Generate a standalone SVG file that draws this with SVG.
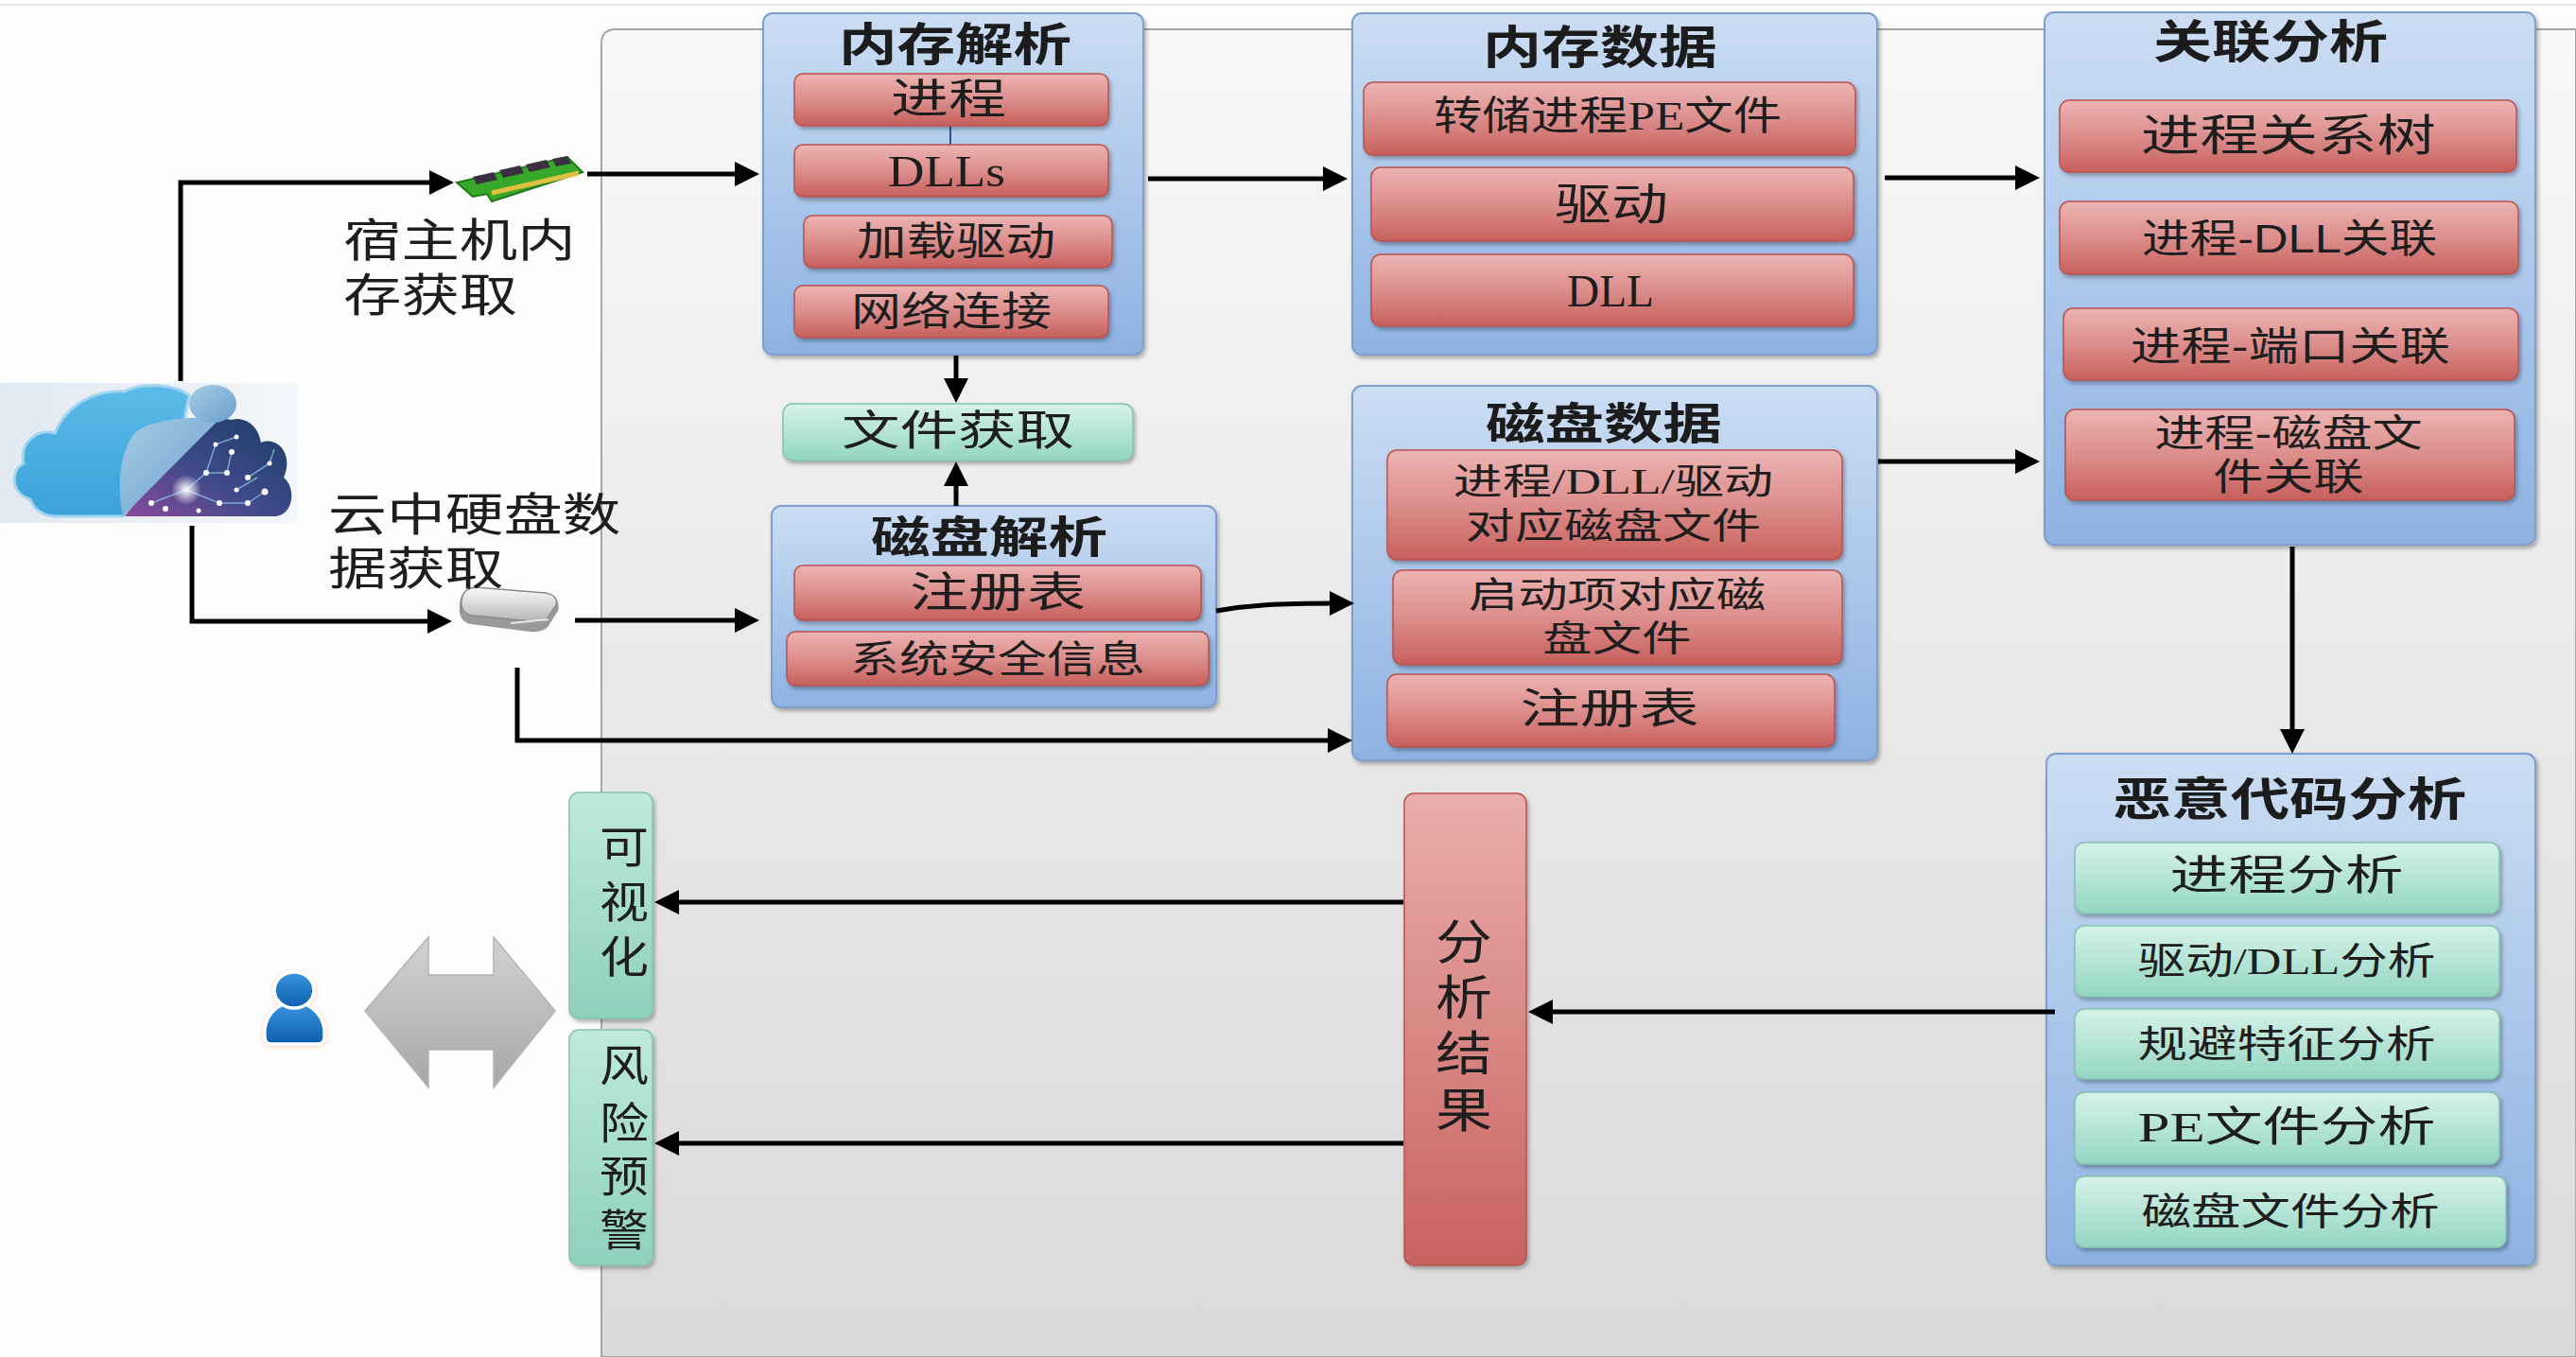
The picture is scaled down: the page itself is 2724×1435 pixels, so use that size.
<svg xmlns="http://www.w3.org/2000/svg" width="2724" height="1435" viewBox="0 0 2724 1435">
  <defs>
    <linearGradient id="gPanel" x1="0" y1="0" x2="0" y2="1">
      <stop offset="0" stop-color="#f8f8f8"/>
      <stop offset="1" stop-color="#dadada"/>
    </linearGradient>
    <linearGradient id="gBlue" x1="0" y1="0" x2="0" y2="1">
      <stop offset="0" stop-color="#cbddf3"/>
      <stop offset="1" stop-color="#8db2e2"/>
    </linearGradient>
    <linearGradient id="gRed" x1="0" y1="0" x2="0" y2="1">
      <stop offset="0" stop-color="#ecb4b2"/>
      <stop offset="0.5" stop-color="#dc8e8c"/>
      <stop offset="1" stop-color="#c75f5c"/>
    </linearGradient>
    <linearGradient id="gRedTall" x1="0" y1="0" x2="0" y2="1">
      <stop offset="0" stop-color="#e9aeac"/>
      <stop offset="1" stop-color="#c8625f"/>
    </linearGradient>
    <linearGradient id="gGreen" x1="0" y1="0" x2="0" y2="1">
      <stop offset="0" stop-color="#d6f2e9"/>
      <stop offset="1" stop-color="#93d6c2"/>
    </linearGradient>
    <linearGradient id="gGreenTall" x1="0" y1="0" x2="0" y2="1">
      <stop offset="0" stop-color="#bfeadc"/>
      <stop offset="1" stop-color="#8fd0bd"/>
    </linearGradient>
    <linearGradient id="gGray" x1="0" y1="0" x2="0" y2="1">
      <stop offset="0" stop-color="#d2d2d2"/>
      <stop offset="0.5" stop-color="#bdbdbd"/>
      <stop offset="1" stop-color="#a6a6a6"/>
    </linearGradient>
    <linearGradient id="gCloudBg" x1="0" y1="0" x2="1" y2="0">
      <stop offset="0" stop-color="#e2e9f2"/>
      <stop offset="1" stop-color="#f3f6fa"/>
    </linearGradient>
    <linearGradient id="gCloudLight" x1="0" y1="0" x2="0" y2="1">
      <stop offset="0" stop-color="#5cbbe9"/>
      <stop offset="1" stop-color="#3aa2d9"/>
    </linearGradient>
    <linearGradient id="gCloudDark" x1="1" y1="0" x2="0" y2="1">
      <stop offset="0" stop-color="#1d3d66"/>
      <stop offset="0.55" stop-color="#3f4a8a"/>
      <stop offset="1" stop-color="#8e4a9c"/>
    </linearGradient>
    <linearGradient id="gBubble" x1="0" y1="0" x2="1" y2="1">
      <stop offset="0" stop-color="#a6cbe6"/>
      <stop offset="1" stop-color="#6a9fcb"/>
    </linearGradient>
    <radialGradient id="gGlow">
      <stop offset="0" stop-color="#ffffff" stop-opacity="1"/>
      <stop offset="1" stop-color="#ffffff" stop-opacity="0"/>
    </radialGradient>
    <linearGradient id="gDisk" x1="0" y1="0" x2="0" y2="1">
      <stop offset="0" stop-color="#fbfbfb"/>
      <stop offset="1" stop-color="#b5b5b5"/>
    </linearGradient>
    <linearGradient id="gUser" x1="0" y1="0" x2="0" y2="1">
      <stop offset="0" stop-color="#3a96de"/>
      <stop offset="1" stop-color="#0d5eae"/>
    </linearGradient>
    <filter id="shadow" x="-10%" y="-10%" width="120%" height="130%">
      <feDropShadow dx="2" dy="3" stdDeviation="2" flood-color="#000" flood-opacity="0.3"/>
    </filter>
    <filter id="halo" x="-30%" y="-30%" width="160%" height="160%">
      <feDropShadow dx="0" dy="1" stdDeviation="2.5" flood-color="#e8a060" flood-opacity="0.45"/>
    </filter>
    <marker id="arrow" viewBox="0 0 26 26" markerWidth="26" markerHeight="26" refX="6" refY="13" orient="auto" markerUnits="userSpaceOnUse">
      <path d="M0,0 L26,13 L0,26 Z" fill="#000"/>
    </marker>
  </defs>
  <style>
    .container { fill: url(#gBlue); stroke: #7d9fcf; stroke-width: 2; filter: url(#shadow); }
    .red { fill: url(#gRed); stroke: #b85350; stroke-width: 1.5; filter: url(#shadow); }
    .green { fill: url(#gGreen); stroke: #84c3ae; stroke-width: 1.5; filter: url(#shadow); }
    .title { font-family: "Noto Sans CJK SC", "Liberation Sans", sans-serif; font-weight: bold; fill: #1c1c1c; text-anchor: middle; dominant-baseline: central; }
    .serif { font-family: "Liberation Serif", "Noto Sans CJK SC", serif; fill: #1e1e1e; text-anchor: middle; dominant-baseline: central; }
    .sans { font-family: "Liberation Sans", "Noto Sans CJK SC", sans-serif; fill: #1e1e1e; text-anchor: middle; dominant-baseline: central; }
    .left { text-anchor: start; }
    .conn { fill: none; stroke: #000; stroke-width: 5; marker-end: url(#arrow); }
  </style>

  <!-- page -->
  <rect x="0" y="0" width="2724" height="1435" fill="#fdfdfd"/>
  <line x1="0" y1="5" x2="2724" y2="5" stroke="#e6e6e6" stroke-width="2"/>
  <path d="M636,1435 V46 Q636,31 651,31 H2724 V1435 Z" fill="url(#gPanel)" stroke="#a6a6a6" stroke-width="2"/>

  <!-- cloud source -->
  <g id="cloud">
    <rect x="0" y="405" width="315" height="148" fill="url(#gCloudBg)"/>
    <path d="M127,546 L292,546 C311,544 313,515 300,505 C311,480 293,461 276,468 C273,450 259,440 245,444 L233,442 Z" fill="url(#gCloudDark)"/>
    <g stroke="#8fc8e8" stroke-width="1.5" fill="none" opacity="0.75">
      <path d="M197,518 L218,500 L240,500 L245,478"/>
      <path d="M197,518 L232,532 L262,532 L280,520"/>
      <path d="M262,505 L285,490 L290,475"/>
      <path d="M218,500 L228,470 L250,462"/>
      <path d="M160,532 L197,518"/>
      <path d="M250,518 L272,505"/>
    </g>
    <g fill="#ffffff">
      <circle cx="218" cy="500" r="3"/>
      <circle cx="240" cy="500" r="3"/>
      <circle cx="245" cy="478" r="3"/>
      <circle cx="262" cy="505" r="3"/>
      <circle cx="280" cy="520" r="3.5"/>
      <circle cx="232" cy="532" r="3"/>
      <circle cx="262" cy="532" r="3"/>
      <circle cx="160" cy="532" r="3"/>
      <circle cx="175" cy="538" r="3"/>
      <circle cx="285" cy="490" r="2.5"/>
      <circle cx="228" cy="470" r="2.5"/>
      <circle cx="250" cy="462" r="2.5"/>
      <circle cx="250" cy="518" r="2.5"/>
      <circle cx="210" cy="540" r="2.5"/>
    </g>
    <circle cx="197" cy="518" r="16" fill="url(#gGlow)"/>
    <path d="M32,528 C12,522 10,498 25,490 C20,468 40,452 58,458 C70,428 100,412 132,414 C150,404 185,406 200,418 L190,470 L130,546 L60,546 C45,546 35,538 32,528 Z" fill="url(#gCloudLight)" stroke="#a2d6ee" stroke-width="3"/>
    <path d="M130,546 C123,515 127,472 145,456 C160,444 200,440 233,442 Z" fill="url(#gBubble)"/>
    <ellipse cx="225" cy="427" rx="25" ry="20" fill="url(#gBubble)"/>
  </g>

  <!-- memory stick -->
  <g id="ram-icon">
    <polygon points="483,193 600,166 616,182 520,213 515,205 500,208" fill="#36a82a" stroke="#1f7a18" stroke-width="2"/>
    <polygon points="500,187 522,182 526,190 504,195" fill="#3a3040"/>
    <polygon points="528,180 550,175 554,183 532,188" fill="#3a3040"/>
    <polygon points="556,174 578,169 582,177 560,182" fill="#3a3040"/>
    <polygon points="584,168 600,165 604,173 588,176" fill="#3a3040"/>
    <line x1="520" y1="204" x2="612" y2="183" stroke="#e0c040" stroke-width="5"/>
  </g>

  <!-- disk -->
  <g id="disk-icon">
    <path d="M486,640 Q486,624 502,622 L578,630 Q594,633 590,646 L580,662 Q575,669 560,668 L498,660 Q484,657 486,640 Z" fill="#9a9a9a"/>
    <path d="M488,636 Q489,622 503,621 L577,627 Q591,630 588,640 L580,652 Q575,658 562,657 L500,651 Q487,649 488,636 Z" fill="url(#gDisk)" stroke="#8a8a8a" stroke-width="1.5"/>
    <path d="M540,659 L580,655" stroke="#e8e8e8" stroke-width="2"/>
  </g>

  <g id="label-host-memory">
    <text class="sans left" transform="translate(363,0) scale(1.28,1)" font-size="48"><tspan x="0" y="254">宿主机内</tspan><tspan x="0" y="312">存获取</tspan></text>
  </g>
  <g id="label-cloud-disk">
    <text class="sans left" transform="translate(347,0) scale(1.29,1)" font-size="48"><tspan x="0" y="545">云中硬盘数</tspan><tspan x="0" y="602">据获取</tspan></text>
  </g>

  <!-- memory parsing -->
  <g id="node-memory-parse">
    <rect class="container" x="807" y="14" width="402" height="361" rx="10"/>
    <text class="title" x="1010" y="43" font-size="48" textLength="246" lengthAdjust="spacingAndGlyphs">内存解析</text>
    <line x1="1005" y1="133" x2="1005" y2="153" stroke="#2d4f8a" stroke-width="2"/>
    <rect class="red" x="840" y="78" width="332" height="55" rx="9"/>
    <text class="serif" x="1003" y="105" font-size="44" textLength="122" lengthAdjust="spacingAndGlyphs">进程</text>
    <rect class="red" x="840" y="153" width="332" height="55" rx="9"/>
    <text class="serif" x="1001" y="181" font-size="46" textLength="124" lengthAdjust="spacingAndGlyphs">DLLs</text>
    <rect class="red" x="850" y="228" width="326" height="55" rx="9"/>
    <text class="serif" x="1011" y="256" font-size="42" textLength="210" lengthAdjust="spacingAndGlyphs">加载驱动</text>
    <rect class="red" x="840" y="302" width="332" height="55" rx="9"/>
    <text class="serif" x="1006" y="330" font-size="42" textLength="212" lengthAdjust="spacingAndGlyphs">网络连接</text>
  </g>

  <!-- memory data -->
  <g id="node-memory-data">
    <rect class="container" x="1430" y="14" width="555" height="361" rx="10"/>
    <text class="title" x="1692" y="46" font-size="48" textLength="248" lengthAdjust="spacingAndGlyphs">内存数据</text>
    <rect class="red" x="1442" y="87" width="520" height="77" rx="10"/>
    <text class="serif" x="1700" y="123" font-size="42" textLength="368" lengthAdjust="spacingAndGlyphs">转储进程PE文件</text>
    <rect class="red" x="1450" y="177" width="510" height="78" rx="10"/>
    <text class="serif" x="1704" y="216" font-size="46" textLength="120" lengthAdjust="spacingAndGlyphs">驱动</text>
    <rect class="red" x="1450" y="269" width="510" height="76" rx="10"/>
    <text class="serif" x="1703" y="307" font-size="48" textLength="92" lengthAdjust="spacingAndGlyphs">DLL</text>
  </g>

  <!-- correlation analysis -->
  <g id="node-correlation">
    <rect class="container" x="2162" y="13" width="519" height="563" rx="10"/>
    <text class="title" x="2401" y="40" font-size="48" font-weight="normal" textLength="248" lengthAdjust="spacingAndGlyphs">关联分析</text>
    <rect class="red" x="2178" y="106" width="483" height="76" rx="10"/>
    <text class="sans" x="2420" y="143" font-size="46" textLength="312" lengthAdjust="spacingAndGlyphs">进程关系树</text>
    <rect class="red" x="2178" y="213" width="485" height="77" rx="10"/>
    <text class="sans" x="2421" y="252" font-size="42" textLength="312" lengthAdjust="spacingAndGlyphs">进程-DLL关联</text>
    <rect class="red" x="2182" y="326" width="481" height="76" rx="10"/>
    <text class="sans" x="2422" y="366" font-size="42" textLength="338" lengthAdjust="spacingAndGlyphs">进程-端口关联</text>
    <rect class="red" x="2184" y="433" width="475" height="96" rx="10"/>
    <text class="sans" transform="translate(2420,0) scale(1.33,1)" font-size="40"><tspan x="0" y="458">进程-磁盘文</tspan><tspan x="0" y="504">件关联</tspan></text>
  </g>

  <!-- file retrieval -->
  <g id="node-file-fetch">
    <rect class="green" x="828" y="427" width="370" height="60" rx="10"/>
    <text class="serif" x="1013" y="456" font-size="44" textLength="246" lengthAdjust="spacingAndGlyphs">文件获取</text>
  </g>

  <!-- disk parsing -->
  <g id="node-disk-parse">
    <rect class="container" x="816" y="535" width="470" height="213" rx="10"/>
    <text class="title" x="1046" y="564" font-size="46" textLength="250" lengthAdjust="spacingAndGlyphs">磁盘解析</text>
    <rect class="red" x="840" y="598" width="430" height="58" rx="9"/>
    <text class="serif" x="1055" y="627" font-size="44" textLength="186" lengthAdjust="spacingAndGlyphs">注册表</text>
    <rect class="red" x="832" y="668" width="446" height="57" rx="9"/>
    <text class="serif" x="1055" y="697" font-size="40" textLength="312" lengthAdjust="spacingAndGlyphs">系统安全信息</text>
  </g>

  <!-- disk data -->
  <g id="node-disk-data">
    <rect class="container" x="1430" y="408" width="555" height="396" rx="10"/>
    <text class="title" x="1696" y="444" font-size="46" textLength="250" lengthAdjust="spacingAndGlyphs">磁盘数据</text>
    <rect class="red" x="1467" y="476" width="481" height="116" rx="10"/>
    <text class="serif" transform="translate(1706,0) scale(1.37,1)" font-size="38"><tspan x="0" y="509">进程/DLL/驱动</tspan><tspan x="0" y="556">对应磁盘文件</tspan></text>
    <rect class="red" x="1473" y="603" width="475" height="100" rx="10"/>
    <text class="serif" transform="translate(1710,0) scale(1.38,1)" font-size="38"><tspan x="0" y="629">启动项对应磁</tspan><tspan x="0" y="675">盘文件</tspan></text>
    <rect class="red" x="1467" y="713" width="473" height="77" rx="10"/>
    <text class="serif" x="1702" y="750" font-size="44" textLength="189" lengthAdjust="spacingAndGlyphs">注册表</text>
  </g>

  <!-- malware analysis -->
  <g id="node-malware">
    <rect class="container" x="2164" y="797" width="517" height="541" rx="10"/>
    <text class="title" x="2421" y="841" font-size="48" textLength="374" lengthAdjust="spacingAndGlyphs">恶意代码分析</text>
    <rect class="green" x="2194" y="891" width="449" height="75" rx="10"/>
    <text class="serif" x="2418" y="926" font-size="44" textLength="247" lengthAdjust="spacingAndGlyphs">进程分析</text>
    <rect class="green" x="2194" y="979" width="449" height="75" rx="10"/>
    <text class="serif" x="2418" y="1016" font-size="40" textLength="315" lengthAdjust="spacingAndGlyphs">驱动/DLL分析</text>
    <rect class="green" x="2194" y="1067" width="449" height="74" rx="10"/>
    <text class="serif" x="2418" y="1104" font-size="40" textLength="315" lengthAdjust="spacingAndGlyphs">规避特征分析</text>
    <rect class="green" x="2194" y="1155" width="449" height="76" rx="10"/>
    <text class="serif" x="2418" y="1192" font-size="44" textLength="315" lengthAdjust="spacingAndGlyphs">PE文件分析</text>
    <rect class="green" x="2194" y="1244" width="456" height="75" rx="10"/>
    <text class="serif" x="2422" y="1281" font-size="40" textLength="315" lengthAdjust="spacingAndGlyphs">磁盘文件分析</text>
  </g>

  <!-- analysis result -->
  <g id="node-result">
    <rect x="1485" y="839" width="129" height="499" rx="10" fill="url(#gRedTall)" stroke="#b85350" stroke-width="1.5" filter="url(#shadow)"/>
    <text class="sans" transform="translate(1548,0) scale(1.2,1)" font-size="50"><tspan x="0" y="997">分</tspan><tspan x="0" y="1056">析</tspan><tspan x="0" y="1115">结</tspan><tspan x="0" y="1175">果</tspan></text>
  </g>

  <!-- visualization -->
  <g id="node-visual">
    <rect x="602" y="838" width="88" height="239" rx="10" fill="url(#gGreenTall)" stroke="#84c3ae" stroke-width="1.5" filter="url(#shadow)"/>
    <text class="sans" transform="translate(660,0) scale(1.13,1)" font-size="46"><tspan x="0" y="896">可</tspan><tspan x="0" y="954">视</tspan><tspan x="0" y="1012">化</tspan></text>
  </g>

  <!-- risk warning -->
  <g id="node-warning">
    <rect x="602" y="1089" width="88" height="249" rx="10" fill="url(#gGreenTall)" stroke="#84c3ae" stroke-width="1.5" filter="url(#shadow)"/>
    <text class="sans" transform="translate(660,0) scale(1.13,1)" font-size="46"><tspan x="0" y="1127">风</tspan><tspan x="0" y="1188">险</tspan><tspan x="0" y="1244">预</tspan><tspan x="0" y="1301">警</tspan></text>
  </g>

  <!-- user -->
  <g id="user-icon" filter="url(#halo)">
    <path d="M280,1097 C278,1075 292,1060 311,1060 C330,1060 345,1075 343,1097 Q343,1104 336,1104 L287,1104 Q280,1104 280,1097 Z" fill="url(#gUser)" stroke="#ffffff" stroke-width="3.5"/>
    <ellipse cx="311" cy="1047" rx="21" ry="19" fill="url(#gUser)" stroke="#ffffff" stroke-width="3.5"/>
  </g>

  <!-- two-way exchange -->
  <g id="exchange-arrow">
    <polygon points="386,1069 453,991 453,1031 522,1031 522,991 587,1069 522,1150 522,1110 453,1110 453,1150" fill="url(#gGray)" stroke="#b3b3b3" stroke-width="1.5"/>
  </g>

  <g id="connectors">
    <path class="conn" d="M191,403 V193 H460"/>
    <path class="conn" d="M621,184 H783"/>
    <path class="conn" d="M203,556 V657 H458"/>
    <path class="conn" d="M608,656 H783"/>
    <path class="conn" d="M547,706 V783 H1410"/>
    <path class="conn" d="M1214,189 H1405"/>
    <path class="conn" d="M1011,376 V406"/>
    <path class="conn" d="M1011,535 V508"/>
    <path class="conn" d="M1286,646 C1320,640 1350,638 1412,638"/>
    <path class="conn" d="M1993,188 H2137"/>
    <path class="conn" d="M1986,488 H2137"/>
    <path class="conn" d="M2424,578 V777"/>
    <path class="conn" d="M2173,1070 H1636"/>
    <path class="conn" d="M1484,954 H712"/>
    <path class="conn" d="M1484,1209 H712"/>
  </g>
</svg>
